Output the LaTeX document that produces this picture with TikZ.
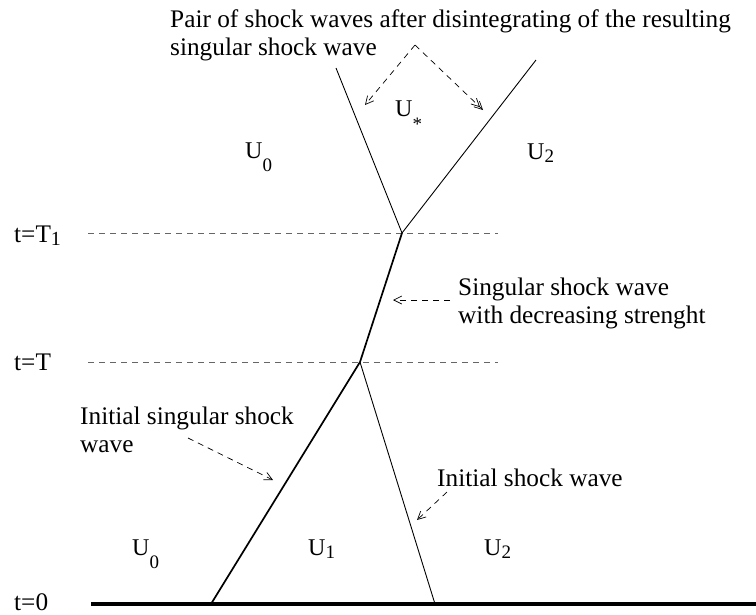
\documentclass[tikz,border=0pt]{standalone}
\usepackage{fontspec}
\setmainfont{Liberation Serif}
\usetikzlibrary{arrows.meta,positioning,calc}

% U with a lowered index, as the figure prints it
\newcommand{\Usub}[2]{U\raisebox{-#2}{\fontsize{19}{19}\selectfont #1}}

\begin{document}
\begin{tikzpicture}[x=1pt,y=-1pt,
  lbl/.style={font=\fontsize{25.3}{28}\selectfont, inner sep=0pt, align=left},
  ulbl/.style={font=\fontsize{24}{24}\selectfont, inner sep=0pt},
  wave/.style={line width=0.9pt},
  swave/.style={line width=1.7pt},
  tlevel/.style={black!60, line width=0.8pt, dash pattern=on 6pt off 5pt},
  ptr/.style={-{Straight Barb[length=8pt,width=8pt]}, line width=0.7pt, dash pattern=on 6pt off 5pt},
  ptrr/.style={-{Straight Barb[length=8pt,width=8pt,sep=-5pt]Straight Barb[length=8pt,width=8pt]}, line width=0.7pt, dash pattern=on 6pt off 5pt}
]
\useasboundingbox (0,0) rectangle (756,614);

% points of the waves
\coordinate (a0) at (211,604);
\coordinate (b0) at (435,604);
\coordinate (t)  at (360,362);
\coordinate (t1) at (402,233);
\coordinate (l1) at (336,68);
\coordinate (r1) at (536,60);
\coordinate (xs) at (91,604);
\coordinate (xe) at (756,604);

% time levels
\node[lbl, anchor=base west] (lt1) at (14,242) {t=T\raisebox{-0.3ex}{\fontsize{20}{20}\selectfont 1}};
\node[lbl, anchor=base west] (lt)  at (14,370) {t=T};
\node[lbl, anchor=base west] (l0)  at (14,610) {t=0};
\coordinate (d1s) at (88,233);  \coordinate (d1e) at (498,233);
\coordinate (ds)  at (88,362);  \coordinate (de)  at (498,362);
\draw[tlevel] (d1s) -- (d1e);
\draw[tlevel] (ds) -- (de);

% waves
\draw[line width=3.5pt] (xs) -- (xe);
\draw[swave] (a0) -- (t) -- (t1);
\draw[wave] (b0) -- (t);
\draw[wave] (t1) -- (l1);
\draw[wave] (t1) -- (r1);

% states
\node[ulbl, anchor=base west] (u0b) at (132,555) {\Usub{0}{1.2ex}};
\node[ulbl, anchor=base west] (u1)  at (308,555) {\Usub{1}{0.3ex}};
\node[ulbl, anchor=base west] (u2b) at (484,555) {\Usub{2}{0.3ex}};
\node[ulbl, anchor=base west] (u0t) at (245,158) {\Usub{0}{1.2ex}};
\node[ulbl, anchor=base west] (u2t) at (527,159) {\Usub{2}{0.3ex}};
\node[ulbl, anchor=base west] (us)  at (395,116) {\Usub{*}{1.3ex}};

% captions and pointers
\node[lbl, anchor=base west] (pair) at (170,55) {Pair of shock waves after disintegrating of the resulting\\singular shock wave};
\coordinate (pp) at (415,45);
\coordinate (pl) at (365,105);
\coordinate (pr) at (483,110);
\draw[ptr] (pp) -- (pl);
\draw[ptrr] (pp) -- (pr);

\node[lbl, anchor=base west] (sing) at (458,323) {Singular shock wave\\with decreasing strenght};
\coordinate (ss) at (450,300);
\coordinate (se) at (393,300);
\draw[ptr] (ss) -- (se);

\node[lbl, anchor=base west] (isw) at (80,452) {Initial singular shock\\wave};
\coordinate (is) at (188,438);
\coordinate (ie) at (273,480);
\draw[ptr] (is) -- (ie);

\node[lbl, anchor=base west] (ish) at (437,486) {Initial shock wave};
\coordinate (hs) at (447,492);
\coordinate (he) at (417,520);
\draw[ptr] (hs) -- (he);
\end{tikzpicture}
\end{document}
